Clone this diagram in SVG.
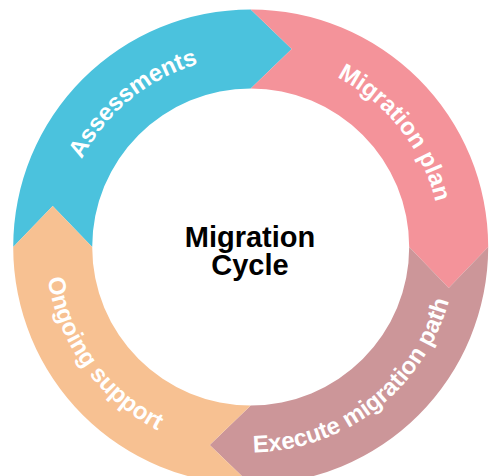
<svg xmlns="http://www.w3.org/2000/svg" width="493" height="476" viewBox="0 0 493 476">
<style>
.lbl{font-family:"Liberation Sans",Arial,sans-serif;font-weight:bold;font-size:24px;fill:#ffffff}
.ctr{font-family:"Liberation Sans",Arial,sans-serif;font-weight:bold;font-size:29px;fill:#000000}
</style>
<defs>
<path id="pA" d="M84.6,340.2 A190.5,190.5 0 0 1 374.9,102.6"/>
<path id="pM" d="M160.2,79.4 A190.5,190.5 0 0 1 393.0,373.6"/>
<path id="pE" d="M112.7,399.2 A205.5,205.5 0 0 0 432.5,151.2"/>
<path id="pO" d="M102.9,104.2 A205.5,205.5 0 0 0 340.8,431.7"/>
</defs>
<rect width="493" height="476" fill="#ffffff"/>
<g id="connectors"></g>
<g id="assessments">
<path d="M13.2,247 A237.5,237.5 0 0 1 250.7,9.5 L291.7,49 L250.7,88.5 A158.5,158.5 0 0 0 92.2,247 L52.7,206 Z" fill="#4BC2DD"/>
<text class="lbl"><textPath href="#pA" startOffset="50%" text-anchor="middle">Assessments</textPath></text>
</g>
<g id="migration-plan">
<path d="M250.7,9.5 A237.5,237.5 0 0 1 488.2,247 L448.7,288 L409.2,247 A158.5,158.5 0 0 0 250.7,88.5 L291.7,49 Z" fill="#F4939A"/>
<text class="lbl"><textPath href="#pM" startOffset="50%" text-anchor="middle">Migration plan</textPath></text>
</g>
<g id="execute-migration-path">
<path d="M488.2,247 A237.5,237.5 0 0 1 250.7,484.5 L209.7,445 L250.7,405.5 A158.5,158.5 0 0 0 409.2,247 L448.7,288 Z" fill="#CC9699"/>
<text class="lbl"><textPath href="#pE" startOffset="50%" text-anchor="middle">Execute migration path</textPath></text>
</g>
<g id="ongoing-support">
<path d="M250.7,484.5 A237.5,237.5 0 0 1 13.2,247 L52.7,206 L92.2,247 A158.5,158.5 0 0 0 250.7,405.5 L209.7,445 Z" fill="#F7C192"/>
<text class="lbl"><textPath href="#pO" startOffset="50%" text-anchor="middle">Ongoing support</textPath></text>
</g>
<g id="center">
<text class="ctr" x="250" y="247" text-anchor="middle">Migration</text>
<text class="ctr" x="250" y="275" text-anchor="middle">Cycle</text>
</g>
</svg>
